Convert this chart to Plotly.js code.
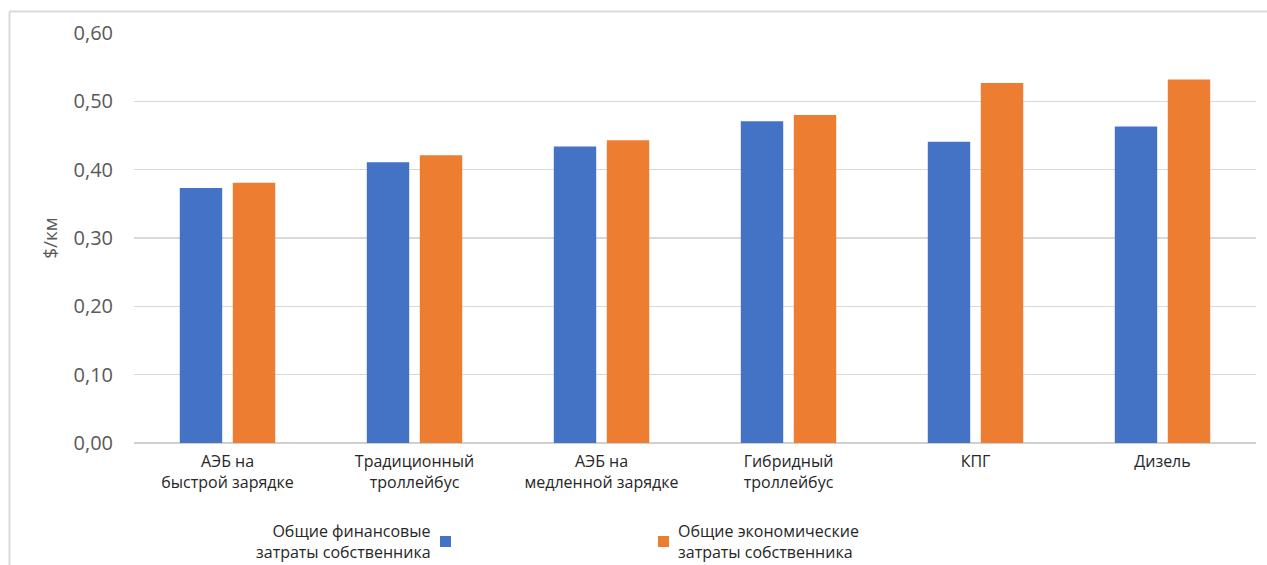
<!DOCTYPE html>
<html>
<head>
<meta charset="utf-8">
<script src="https://cdn.plot.ly/plotly-3.0.1.min.js"></script>
<style>
html,body{margin:0;padding:0;background:#fff;}
#chart{width:1267px;height:565px;}
</style>
</head>
<body>
<div id="chart"></div>
<script>
const categories = [
  "АЭБ на<br>быстрой зарядке",
  "Традиционный<br>троллейбус",
  "АЭБ на<br>медленной зарядке",
  "Гибридный<br>троллейбус",
  "КПГ",
  "Дизель"
];
const seriesNames = [
  "Общие финансовые<br>затраты собственника",
  "Общие экономические<br>затраты собственника"
];
const financial = [0.373, 0.411, 0.434, 0.471, 0.441, 0.463];
const economic  = [0.381, 0.421, 0.443, 0.480, 0.527, 0.532];
const yTicks = [0, 0.1, 0.2, 0.3, 0.4, 0.5, 0.6];
const colors = ["#4472C4", "#ED7D31"];

const FONT = "'Open Sans', 'Noto Sans', sans-serif";

const traces = [
  {type: "bar", x: categories, y: financial, name: seriesNames[0],
   marker: {color: colors[0]}, hoverinfo: "y"},
  {type: "bar", x: categories, y: economic, name: seriesNames[1],
   marker: {color: colors[1]}, hoverinfo: "y"}
];

// plot area: x 134..1256, y 33..443
const L = 134, R = 1256, T = 33, B = 443, W = 1267, H = 565;
const pw = R - L, ph = B - T;
const px = v => (v - L) / pw;
const py = v => (B - v) / ph;

const layout = {
  width: W, height: H,
  margin: {l: L, r: W - R, t: T, b: H - B, pad: 0},
  paper_bgcolor: "#fff", plot_bgcolor: "#fff",
  separators: ", ",
  font: {family: FONT, color: "#404040"},
  barmode: "group",
  bargap: 0.433,
  bargroupgap: 0.2,
  showlegend: false,
  xaxis: {
    type: "category",
    showgrid: false, zeroline: false, showline: false,
    ticks: "", ticklabelstandoff: 7,
    tickfont: {family: FONT, size: 16, color: "#262626"},
    fixedrange: true
  },
  yaxis: {
    range: [0, 0.6],
    tickvals: yTicks,
    tickformat: ".2f",
    showgrid: true, gridcolor: "#d9d9d9", gridwidth: 1.5,
    zeroline: true, zerolinecolor: "#d0d0d0", zerolinewidth: 1.5,
    showline: false, ticks: "",
    ticklabelstandoff: 20,
    tickfont: {family: FONT, size: 20, color: "#595959"},
    title: {text: "$/км", standoff: 10, font: {family: FONT, size: 19, color: "#595959"}},
    fixedrange: true
  },
  shapes: [
    {type: "line", xref: "paper", yref: "paper", x0: px(9.5), x1: px(9.5), y0: py(11.5), y1: py(570),
     line: {color: "#d9d9d9", width: 2}},
    {type: "line", xref: "paper", yref: "paper", x0: px(9.5), x1: px(1270), y0: py(11.5), y1: py(11.5),
     line: {color: "#d9d9d9", width: 2}},
    {type: "rect", xref: "paper", yref: "paper", x0: px(440), x1: px(451), y0: py(547), y1: py(536),
     fillcolor: colors[0], line: {width: 0}},
    {type: "rect", xref: "paper", yref: "paper", x0: px(658), x1: px(669), y0: py(547), y1: py(536),
     fillcolor: colors[1], line: {width: 0}}
  ],
  annotations: [
    {xref: "paper", yref: "paper", x: px(433), y: py(541), xanchor: "right", yanchor: "middle",
     align: "right", showarrow: false, text: seriesNames[0],
     font: {family: FONT, size: 16, color: "#262626"}},
    {xref: "paper", yref: "paper", x: px(676), y: py(541), xanchor: "left", yanchor: "middle",
     align: "left", showarrow: false, text: seriesNames[1],
     font: {family: FONT, size: 16, color: "#262626"}}
  ]
};

Plotly.newPlot("chart", traces, layout, {displayModeBar: false, staticPlot: true});
</script>
</body>
</html>
